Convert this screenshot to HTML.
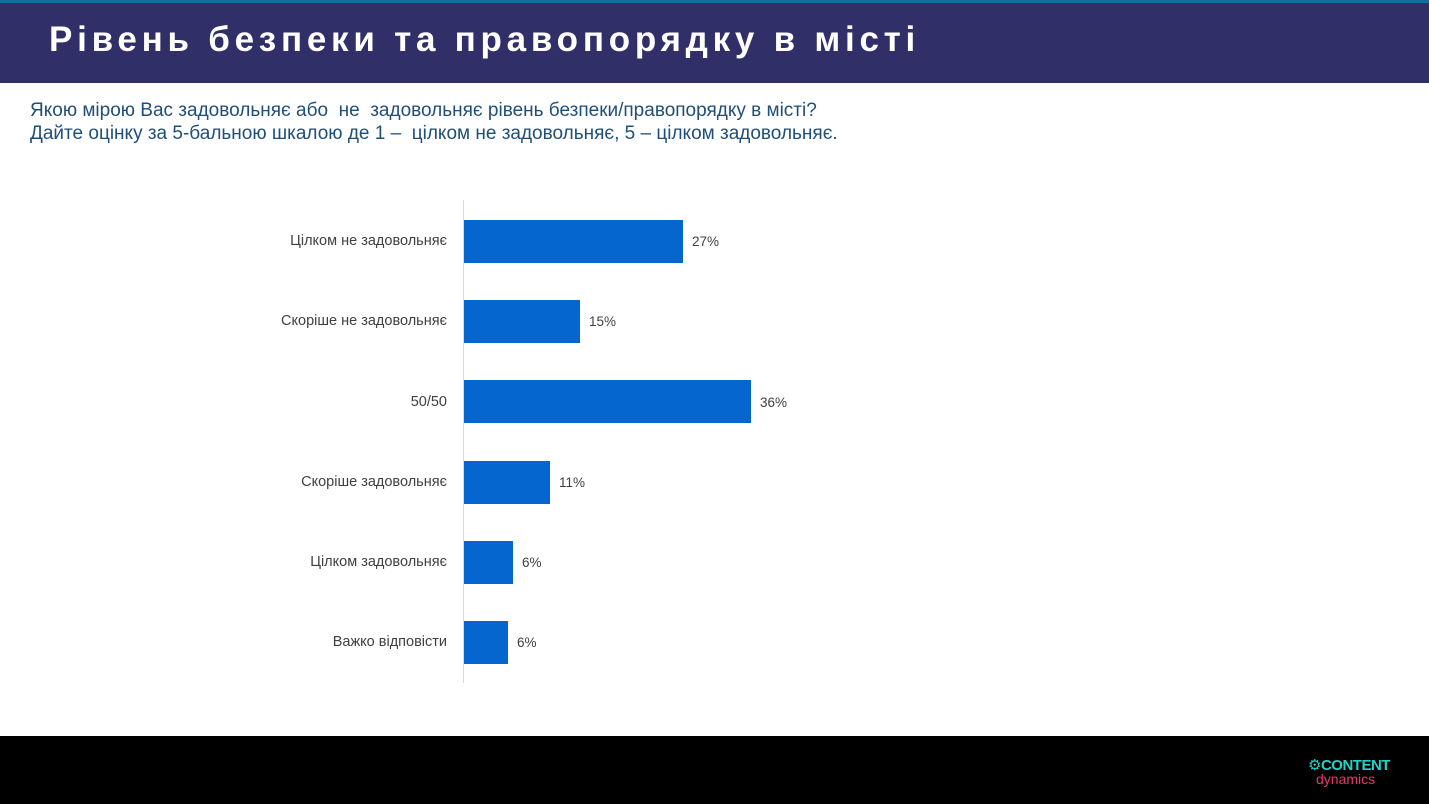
<!DOCTYPE html>
<html><head><meta charset="utf-8"><style>
body{margin:0;width:1429px;height:804px;position:relative;background:#fff;font-family:"Liberation Sans","DejaVu Sans",sans-serif;overflow:hidden}
.top{position:absolute;left:0;top:0;width:1429px;height:3px;background:#1a6a9a}
.hdr{position:absolute;left:0;top:3px;width:1429px;height:80px;background:#302f68}
.title{position:absolute;left:49px;top:20px;color:#fff;font-weight:bold;font-size:35px;letter-spacing:4.75px;white-space:nowrap}
.q{position:absolute;left:30px;top:99px;color:#1f4e79;font-size:19px;line-height:23px;white-space:nowrap}
.axis{position:absolute;left:463px;top:200px;width:1px;height:483px;background:#d9d9d9}
.bar{position:absolute;left:464px;height:43px;background:#0566d0}
.lab{position:absolute;right:982px;font-size:14.5px;color:#404040;white-space:nowrap}
.val{position:absolute;font-size:13.5px;color:#404040}
.foot{position:absolute;left:0;top:736px;width:1429px;height:68px;background:#000}
.logo1{position:absolute;left:1308px;top:756px;color:#22d3c8;font-size:15px;font-weight:bold;letter-spacing:-0.5px}
.logo2{position:absolute;left:1316px;top:771px;color:#e8386a;font-size:14px}
</style></head><body>
<div class="top"></div><div class="hdr"></div>
<div class="title">Рівень безпеки та правопорядку в місті</div>
<div class="q">Якою мірою Вас задовольняє або&nbsp; не&nbsp; задовольняє рівень безпеки/правопорядку в місті?<br>Дайте оцінку за 5-бальною шкалою де 1 –&nbsp; цілком не задовольняє, 5 – цілком задовольняє.</div>
<div class="axis"></div>
<div class="bar" style="top:220px;width:219px"></div><div class="lab" style="top:233px">Цілком не задовольняє</div><div class="val" style="left:692px;top:234px">27%</div>
<div class="bar" style="top:300px;width:116px"></div><div class="lab" style="top:313px">Скоріше не задовольняє</div><div class="val" style="left:589px;top:314px">15%</div>
<div class="bar" style="top:380px;width:287px"></div><div class="lab" style="top:394px">50/50</div><div class="val" style="left:760px;top:395px">36%</div>
<div class="bar" style="top:461px;width:86px"></div><div class="lab" style="top:474px">Скоріше задовольняє</div><div class="val" style="left:559px;top:475px">11%</div>
<div class="bar" style="top:541px;width:49px"></div><div class="lab" style="top:554px">Цілком задовольняє</div><div class="val" style="left:522px;top:555px">6%</div>
<div class="bar" style="top:621px;width:44px"></div><div class="lab" style="top:634px">Важко відповісти</div><div class="val" style="left:517px;top:635px">6%</div>
<div class="foot"></div>
<div class="logo1">⚙CONTENT</div><div class="logo2">dynamics</div>
</body></html>
